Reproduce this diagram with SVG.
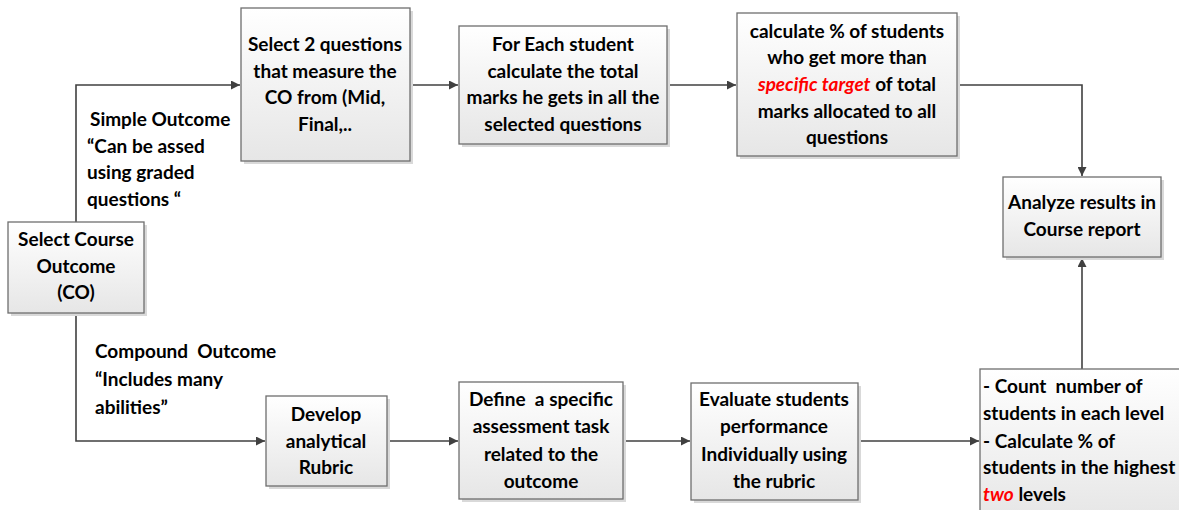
<svg xmlns="http://www.w3.org/2000/svg" width="1179" height="510" viewBox="0 0 1179 510">
  <style>
    .box { fill: url(#boxFill); stroke: #6e6e6e; stroke-width: 1.3; }
    .shadow { fill: #d9d9d9; }
    .t { font-family: Lato, "Open Sans", "Liberation Sans", sans-serif; font-weight: bold; font-size: 19px; fill: #000; }
    .c { text-anchor: middle; }
    .red { fill: #ff0000; font-style: italic; }
    .wire { fill: none; stroke: #404040; stroke-width: 1.6; }
  </style>
  <defs>
    <linearGradient id="boxFill" x1="0" y1="0" x2="0" y2="1">
      <stop offset="0" stop-color="#ffffff"/>
      <stop offset="1" stop-color="#e6e6e6"/>
    </linearGradient>
    <marker id="arrow" viewBox="0 0 10 10" refX="10" refY="5" markerWidth="10" markerHeight="9" markerUnits="userSpaceOnUse" orient="auto">
      <path d="M0,0 L10,5 L0,10 z" fill="#404040"/>
    </marker>
  </defs>
  <rect width="1179" height="510" fill="#ffffff"/>

  <!-- connectors -->
  <g id="connectors">
    <path class="wire" d="M76,222 V85 H240" marker-end="url(#arrow)"/>
    <path class="wire" d="M410,85 H458" marker-end="url(#arrow)"/>
    <path class="wire" d="M667,85 H736" marker-end="url(#arrow)"/>
    <path class="wire" d="M957,85 H1082 V176" marker-end="url(#arrow)"/>
    <path class="wire" d="M76,313 V441 H265" marker-end="url(#arrow)"/>
    <path class="wire" d="M387,441 H458" marker-end="url(#arrow)"/>
    <path class="wire" d="M623,441 H690" marker-end="url(#arrow)"/>
    <path class="wire" d="M858,441 H979" marker-end="url(#arrow)"/>
    <path class="wire" d="M1082,369 V258" marker-end="url(#arrow)"/>
  </g>

  <!-- branch labels -->
  <g id="label-simple" class="t">
    <text x="90" y="126">Simple Outcome</text>
    <text x="87" y="153">“Can be assed</text>
    <text x="87" y="179">using graded</text>
    <text x="87" y="206">questions “</text>
  </g>
  <g id="label-compound" class="t">
    <text x="95" y="358" xml:space="preserve">Compound  Outcome</text>
    <text x="95" y="386">“Includes many</text>
    <text x="95" y="414">abilities”</text>
  </g>

  <g id="select-co">
    <rect class="shadow" x="11" y="225" width="136" height="91"/>
    <rect class="box" x="8" y="222" width="136" height="91"/>
    <text class="t c" x="76" y="246">Select Course</text>
    <text class="t c" x="76" y="273">Outcome</text>
    <text class="t c" x="76" y="299">(CO)</text>
  </g>

  <g id="select-questions">
    <rect class="shadow" x="244" y="11" width="169" height="153"/>
    <rect class="box" x="241" y="8" width="169" height="153"/>
    <text class="t c" x="325" y="51">Select 2 questions</text>
    <text class="t c" x="325" y="78">that measure the</text>
    <text class="t c" x="325" y="104">CO from (Mid,</text>
    <text class="t c" x="325" y="131">Final,..</text>
  </g>

  <g id="total-marks">
    <rect class="shadow" x="462" y="29" width="208" height="118"/>
    <rect class="box" x="459" y="26" width="208" height="118"/>
    <text class="t c" x="563" y="51">For Each student</text>
    <text class="t c" x="563" y="78">calculate the total</text>
    <text class="t c" x="563" y="104">marks he gets in all the</text>
    <text class="t c" x="563" y="131">selected questions</text>
  </g>

  <g id="percent-target">
    <rect class="shadow" x="740" y="16" width="220" height="143"/>
    <rect class="box" x="737" y="13" width="220" height="143"/>
    <text class="t c" x="847" y="38">calculate % of students</text>
    <text class="t c" x="847" y="64">who get more than</text>
    <text class="t c" x="847" y="91"><tspan class="red">specific target</tspan> of total</text>
    <text class="t c" x="847" y="118">marks allocated to all</text>
    <text class="t c" x="847" y="144">questions</text>
  </g>

  <g id="analyze">
    <rect class="shadow" x="1006" y="180" width="158" height="80"/>
    <rect class="box" x="1003" y="177" width="158" height="80"/>
    <text class="t c" x="1082" y="209">Analyze results in</text>
    <text class="t c" x="1082" y="236">Course report</text>
  </g>

  <g id="rubric">
    <rect class="shadow" x="269" y="399" width="121" height="90"/>
    <rect class="box" x="266" y="396" width="121" height="90"/>
    <text class="t c" x="326" y="421">Develop</text>
    <text class="t c" x="326" y="448">analytical</text>
    <text class="t c" x="326" y="474">Rubric</text>
  </g>

  <g id="assessment-task">
    <rect class="shadow" x="462" y="385" width="164" height="117"/>
    <rect class="box" x="459" y="382" width="164" height="117"/>
    <text class="t c" x="541" y="406" xml:space="preserve">Define  a specific</text>
    <text class="t c" x="541" y="433">assessment task</text>
    <text class="t c" x="541" y="461">related to the</text>
    <text class="t c" x="541" y="488">outcome</text>
  </g>

  <g id="evaluate">
    <rect class="shadow" x="694" y="386" width="167" height="117"/>
    <rect class="box" x="691" y="383" width="167" height="117"/>
    <text class="t c" x="774" y="406">Evaluate students</text>
    <text class="t c" x="774" y="433">performance</text>
    <text class="t c" x="774" y="461">Individually using</text>
    <text class="t c" x="774" y="488">the rubric</text>
  </g>

  <g id="count-levels">
    <rect class="box" x="980" y="369" width="210" height="150"/>
    <text class="t" x="983" y="393" xml:space="preserve">- Count  number of</text>
    <text class="t" x="983" y="420">students in each level</text>
    <text class="t" x="983" y="448">- Calculate % of</text>
    <text class="t" x="983" y="474">students in the highest</text>
    <text class="t" x="983" y="501"><tspan class="red">two</tspan> levels</text>
  </g>
</svg>
